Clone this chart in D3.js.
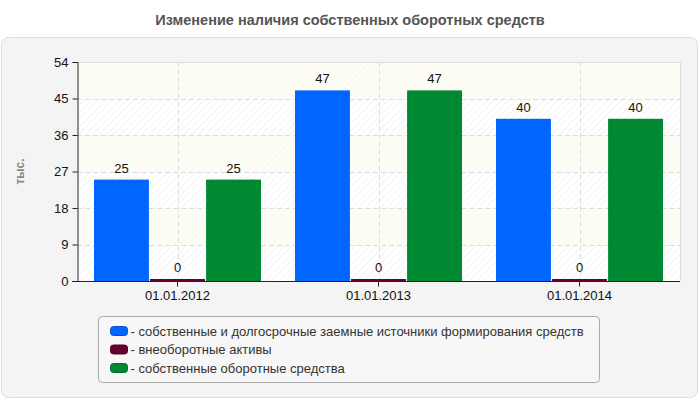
<!DOCTYPE html>
<html>
<head>
<meta charset="utf-8">
<script src="https://cdn.jsdelivr.net/npm/d3@7"></script>
<style>
  body { margin: 0; background: #fff; }
  svg { display: block; font-family: "Liberation Sans", Arial, sans-serif; }
</style>
</head>
<body>
<div id="chart"></div>
<script>
const dates = ["01.01.2012", "01.01.2013", "01.01.2014"];
const seriesNames = [
  "собственные и долгосрочные заемные источники формирования средств",
  "внеоборотные активы",
  "собственные оборотные средства"
];
const seriesColors = ["#0066ff", "#660033", "#008833"];
const ownLongTerm = [25, 47, 40];
const nonCurrent = [0, 0, 0];
const ownWorking = [25, 47, 40];
const yTicks = [0, 9, 18, 27, 36, 45, 54];

const seriesValues = [ownLongTerm, nonCurrent, ownWorking];

const width = 700;
const height = 400;
const margin = {top: 62, right: 20, bottom: 119, left: 77};

const svg = d3.select("#chart")
  .append("svg")
  .attr("width", width)
  .attr("height", height);

// hatch pattern for plot background
const defs = svg.append("defs");
const pat = defs.append("pattern")
  .attr("id", "hatch")
  .attr("patternUnits", "userSpaceOnUse")
  .attr("width", 5)
  .attr("height", 5)
  .attr("patternTransform", "rotate(45)");
pat.append("rect").attr("width", 5).attr("height", 5).attr("fill", "#ffffff");
pat.append("line")
  .attr("x1", 0).attr("y1", 0).attr("x2", 0).attr("y2", 5)
  .attr("stroke", "#f0f0f0").attr("stroke-width", 1.5);

// outer panel
svg.append("rect")
  .attr("x", 1.5).attr("y", 37.5)
  .attr("width", width - 4).attr("height", 360)
  .attr("rx", 7)
  .attr("fill", "#f4f4f4")
  .attr("stroke", "#dddddd");

// title
svg.append("text")
  .attr("x", width / 2)
  .attr("y", 25)
  .attr("text-anchor", "middle")
  .style("font-size", "14.5px")
  .style("font-weight", "bold")
  .attr("fill", "#555")
  .text("Изменение наличия собственных оборотных средств");

const x0 = d3.scaleBand()
  .domain(dates)
  .range([margin.left, width - margin.right])
  .padding(0);

const x1 = d3.scaleBand()
  .domain(d3.range(seriesNames.length))
  .range([17, x0.bandwidth() - 17])
  .paddingInner(0.02);

const y = d3.scaleLinear()
  .domain([0, 54])
  .range([height - margin.bottom, margin.top]);

// plot background
svg.append("rect")
  .attr("x", margin.left).attr("y", margin.top)
  .attr("width", width - margin.left - margin.right)
  .attr("height", y(0) - margin.top)
  .attr("fill", "url(#hatch)");

// alternate faint bands
svg.append("g")
  .selectAll("rect")
  .data(yTicks.slice(0, -1).filter((d, i) => i % 2 === 1))
  .join("rect")
  .attr("x", margin.left)
  .attr("y", d => y(d + 9))
  .attr("width", width - margin.left - margin.right)
  .attr("height", d => y(d) - y(d + 9))
  .attr("fill", "#fbfbf0")
  .attr("opacity", 0.6);

// horizontal grid
svg.append("g")
  .selectAll("line")
  .data(yTicks.slice(1, -1))
  .join("line")
  .attr("x1", margin.left).attr("x2", width - margin.right)
  .attr("y1", d => Math.round(y(d)) + 0.5).attr("y2", d => Math.round(y(d)) + 0.5)
  .attr("stroke", "#dddddd")
  .attr("stroke-dasharray", "5,3");

// vertical grid at category centres
svg.append("g")
  .selectAll("line")
  .data(dates)
  .join("line")
  .attr("x1", d => Math.round(x0(d) + x0.bandwidth() / 2) + 0.5)
  .attr("x2", d => Math.round(x0(d) + x0.bandwidth() / 2) + 0.5)
  .attr("y1", margin.top).attr("y2", y(0))
  .attr("stroke", "#dddddd")
  .attr("stroke-dasharray", "5,3");

// plot border top/right
svg.append("path")
  .attr("d", `M${margin.left},${margin.top + 0.5}H${width - margin.right + 0.5}V${y(0)}`)
  .attr("fill", "none")
  .attr("stroke", "#dddddd");

// bars
const groups = svg.append("g")
  .selectAll("g")
  .data(dates)
  .join("g")
  .attr("transform", d => `translate(${x0(d)},0)`);

groups.selectAll("rect")
  .data((d, i) => seriesValues.map((vals, s) => ({s, v: vals[i]})))
  .join("rect")
  .attr("x", d => x1(d.s))
  .attr("width", x1.bandwidth())
  .attr("y", d => Math.min(y(d.v), y(0) - 2))
  .attr("height", d => Math.max(y(0) - y(d.v), 2))
  .attr("fill", d => seriesColors[d.s]);

groups.selectAll("text")
  .data((d, i) => seriesValues.map((vals, s) => ({s, v: vals[i]})))
  .join("text")
  .attr("x", d => x1(d.s) + x1.bandwidth() / 2)
  .attr("y", d => Math.min(y(d.v), y(0) - 2) - 7)
  .attr("text-anchor", "middle")
  .style("font-size", "13px")
  .attr("fill", "#111")
  .text(d => d.v);

// Y axis
const yAxis = svg.append("g")
  .attr("transform", `translate(${margin.left + 0.5},0)`)
  .call(d3.axisLeft(y).tickValues(yTicks).tickSize(5).tickPadding(4));
yAxis.selectAll("text").style("font-size", "13px").attr("fill", "#111");
yAxis.select(".domain").attr("stroke", "#222");
yAxis.selectAll(".tick line").attr("stroke", "#222");

// X axis
const xAxis = svg.append("g")
  .attr("transform", `translate(0,${y(0) + 0.5})`)
  .call(d3.axisBottom(x0).tickSize(5).tickSizeOuter(0).tickPadding(4));
xAxis.selectAll("text").style("font-size", "13px").attr("fill", "#111");
xAxis.select(".domain").attr("stroke", "#222").attr("d", `M${margin.left - 5},0H${width - margin.right}`);
xAxis.selectAll(".tick line").attr("stroke", "#222");

// Y axis label
svg.append("text")
  .attr("transform", "rotate(-90)")
  .attr("x", -(margin.top + y(0)) / 2)
  .attr("y", 24)
  .attr("text-anchor", "middle")
  .style("font-size", "12px")
  .style("font-weight", "bold")
  .attr("fill", "#888")
  .text("тыс.");

// legend
const legend = svg.append("g").attr("transform", "translate(98.5,316.5)");
legend.append("rect")
  .attr("width", 501).attr("height", 66)
  .attr("rx", 4)
  .attr("fill", "#f7f7f7")
  .attr("stroke", "#aaaaaa");

const items = legend.selectAll("g.item")
  .data(seriesNames)
  .join("g")
  .attr("class", "item")
  .attr("transform", (d, i) => `translate(12,${10 + i * 18.5})`);

items.append("rect")
  .attr("width", 17).attr("height", 9)
  .attr("rx", 3)
  .attr("fill", (d, i) => seriesColors[i])
  .attr("stroke", (d, i) => d3.color(seriesColors[i]).darker(0.6));

items.append("text")
  .attr("x", 20)
  .attr("y", 9)
  .style("font-size", "13px")
  .attr("fill", "#333")
  .text(d => "- " + d);
</script>
</body>
</html>
